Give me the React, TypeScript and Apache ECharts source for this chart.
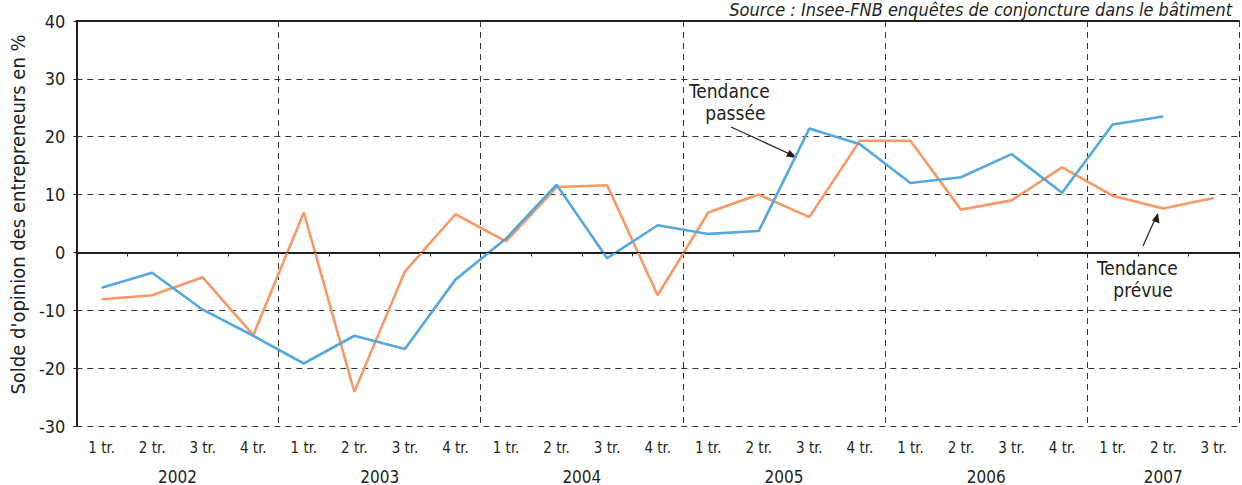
import React, { useEffect, useRef } from "react";
import * as echarts from "echarts";

const quarters = [
  "1 tr.", "2 tr.", "3 tr.", "4 tr.",
  "1 tr.", "2 tr.", "3 tr.", "4 tr.",
  "1 tr.", "2 tr.", "3 tr.", "4 tr.",
  "1 tr.", "2 tr.", "3 tr.", "4 tr.",
  "1 tr.", "2 tr.", "3 tr.", "4 tr.",
  "1 tr.", "2 tr.", "3 tr.",
];

const years = ["2002", "2003", "2004", "2005", "2006", "2007"];
// half-quarter positions (boundaryGap false, 47 slots) where each year label sits
const yearSlots = [4, 12, 20, 28, 36, 43];

const tendancePassee: (number | null)[] = [
  -6.1, -3.5, -9.9, -14.4,
  -19.2, -14.4, -16.7, -4.7,
  2.4, 11.7, -1.0, 4.7,
  3.2, 3.7, 21.4, 18.7,
  12.0, 13.0, 17.0, 10.3,
  22.1, 23.5, null,
];

const tendancePrevue: number[] = [
  -8.1, -7.4, -4.3, -14.3,
  6.9, -24.1, -3.3, 6.6,
  1.9, 11.3, 11.6, -7.4,
  6.9, 10.0, 6.1, 19.3,
  19.3, 7.4, 9.0, 14.7,
  9.8, 7.6, 9.4,
];

const yTicks = { min: -30, max: 40, interval: 10 };

const FONT = "'Liberation Sans Narrow', 'DejaVu Sans Condensed', 'Roboto', sans-serif";
const TXT = "#231f20";
const BLUE = "#55a8dd";
const ORANGE = "#f79866";

export default function App() {
  const ref = useRef<HTMLDivElement>(null);

  useEffect(() => {
    if (!ref.current) return;
    const chart = echarts.init(ref.current, undefined, { renderer: "svg" });

    const yearData: string[] = [];
    for (let i = 0; i < 47; i++) yearData.push("");
    yearSlots.forEach((s, k) => (yearData[s] = years[k]));

    chart.setOption({
      animation: false,
      textStyle: { fontFamily: FONT, color: TXT },
      grid: { left: 74, right: 0, top: 21, bottom: 57, containLabel: false },
      title: {
        text: "Source : Insee-FNB enquêtes de conjoncture dans le bâtiment",
        right: 10,
        top: 0,
        padding: 0,
        textStyle: { fontFamily: FONT, fontStyle: "italic", fontWeight: "normal", fontSize: 18, color: TXT },
      },
      xAxis: [
        {
          type: "category",
          data: quarters,
          boundaryGap: true,
          position: "bottom",
          axisLine: { show: true, lineStyle: { color: TXT, width: 2 } },
          axisTick: { show: true, interval: 0, length: 4, lineStyle: { color: TXT, width: 1 } },
          axisLabel: { interval: 0, fontSize: 15, color: TXT, margin: 14, fontFamily: FONT },
          splitLine: {
            show: true,
            interval: (i: number) => i % 4 === 0 && i > 0,
            lineStyle: { color: "#333", type: [6, 5], width: 1 },
          },
        },
        {
          type: "category",
          data: yearData,
          boundaryGap: false,
          position: "bottom",
          offset: 34,
          axisLine: { show: false },
          axisTick: { show: false },
          axisLabel: { interval: 0, fontSize: 17, color: TXT, margin: 8, fontFamily: FONT },
          splitLine: { show: false },
        },
        {
          type: "category",
          data: quarters,
          position: "top",
          axisLine: { show: true, lineStyle: { color: TXT, width: 2 } },
          axisTick: { show: false },
          axisLabel: { show: false },
          splitLine: { show: false },
        },
      ],
      yAxis: {
        type: "value",
        min: yTicks.min,
        max: yTicks.max,
        interval: yTicks.interval,
        name: "Solde d'opinion des entrepreneurs en %",
        nameLocation: "middle",
        nameGap: 48,
        nameTextStyle: { fontSize: 20, color: TXT, fontFamily: FONT, padding: [0, 0, 0, 18] },
        axisLine: { show: true, lineStyle: { color: TXT, width: 2 } },
        axisTick: { show: true, length: 3, lineStyle: { color: TXT } },
        axisLabel: { fontSize: 18, color: TXT, margin: 11, fontFamily: FONT },
        splitLine: {
          show: true,
          lineStyle: { color: "#333", type: [6, 5], width: 1 },
        },
      },
      series: [
        {
          name: "Tendance passée",
          type: "line",
          data: tendancePassee,
          symbol: "none",
          lineStyle: { color: BLUE, width: 2.6 },
          itemStyle: { color: BLUE },
          z: 3,
          markLine: {
            silent: true,
            symbol: "none",
            label: { show: false },
            lineStyle: { color: TXT, type: "solid", width: 1.2 },
            data: [{ yAxis: 0 }],
          },
        },
        {
          name: "Tendance prévue",
          type: "line",
          data: tendancePrevue,
          symbol: "none",
          lineStyle: { color: ORANGE, width: 2.6 },
          itemStyle: { color: ORANGE },
          z: 2,
        },
      ],
      graphic: [
        {
          type: "text",
          left: 689,
          top: 80,
          style: {
            text: "Tendance\n   passée",
            fontSize: 19,
            lineHeight: 22,
            fontFamily: FONT,
            fill: TXT,
          },
        },
        {
          type: "line",
          shape: { x1: 731, y1: 127, x2: 794, y2: 156 },
          style: { stroke: TXT, lineWidth: 1.2 },
        },
        {
          type: "polygon",
          shape: { points: [[797, 158], [786, 156.5], [789.5, 150]] },
          style: { fill: TXT },
        },
        {
          type: "text",
          left: 1097,
          top: 257,
          style: {
            text: "Tendance\n   prévue",
            fontSize: 19,
            lineHeight: 22,
            fontFamily: FONT,
            fill: TXT,
          },
        },
        {
          type: "line",
          shape: { x1: 1143, y1: 246, x2: 1156, y2: 217 },
          style: { stroke: TXT, lineWidth: 1.2 },
        },
        {
          type: "polygon",
          shape: { points: [[1158, 213], [1159.5, 223.5], [1152, 220.5]] },
          style: { fill: TXT },
        },
      ],
    });

    return () => chart.dispose();
  }, []);

  return (
    <div
      ref={ref}
      style={{ position: "fixed", left: 0, top: 0, width: 1242, height: 485, background: "#fff" }}
    />
  );
}
